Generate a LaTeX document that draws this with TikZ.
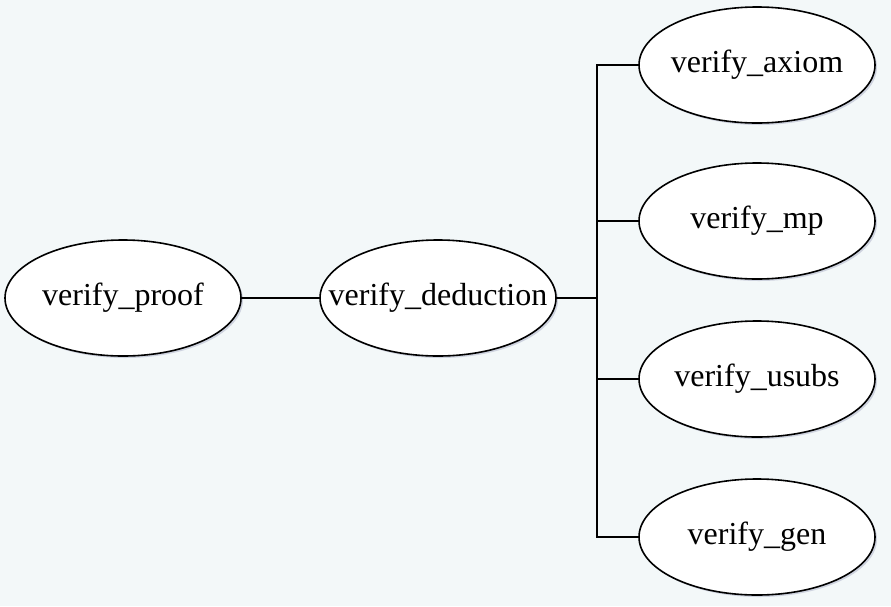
\documentclass[tikz,border=0pt]{standalone}
\usepackage{fontspec}
\setmainfont{Liberation Serif}
\usetikzlibrary{shadows,shapes.geometric}
\definecolor{bgc}{HTML}{F3F8F9}
\newcommand{\lbl}[1]{\makebox[0pt][c]{#1}}
\tikzset{
  x=1pt,y=-1pt,
  oval/.style={ellipse, draw=black, line width=1.6pt, fill=white, minimum width=236pt, minimum height=116pt, inner sep=0pt, font=\fontsize{32}{36}\selectfont,
    drop shadow={shadow xshift=2pt, shadow yshift=-2pt, fill=black!70!blue, opacity=0.15}},
  link/.style={draw=black, line width=2pt}
}
\begin{document}
\begin{tikzpicture}
\fill[bgc] (0,0) rectangle (891,606);
\useasboundingbox (0,0) rectangle (891,606);
\node[oval] (proof) at (123,298) {\lbl{verify\_proof}};
\node[oval] (ded) at (438,298) {\lbl{verify\_deduction}};
\node[oval] (ax) at (757,65) {\lbl{verify\_axiom}};
\node[oval] (mp) at (757,221) {\lbl{verify\_mp}};
\node[oval] (us) at (757,379) {\lbl{verify\_usubs}};
\node[oval] (gen) at (757,537) {\lbl{verify\_gen}};
\coordinate (j) at (597,298);
\draw[link] (proof) -- (ded);
\foreach \n in {ax,mp,us,gen}{
  \draw[link] (ded.east) -- (j) |- (\n.west);
}
\end{tikzpicture}
\end{document}
